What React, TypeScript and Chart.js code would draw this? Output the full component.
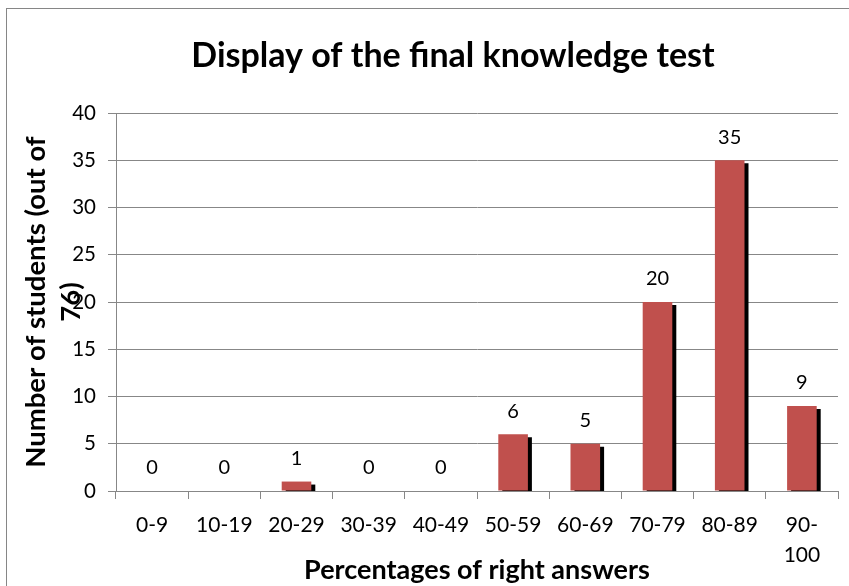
import React, { useEffect, useRef } from 'react';
import { Chart, registerables } from 'chart.js';

Chart.register(...registerables);

const categories: (string | string[])[] = ['0-9', '10-19', '20-29', '30-39', '40-49', '50-59', '60-69', '70-79', '80-89', ['90-', '100']];
const students = [0, 0, 1, 0, 0, 6, 5, 20, 35, 9];
const yMin = 0;
const yMax = 40;
const yStep = 5;
const chartTitle = 'Display of the final knowledge test';
const yTitleLines = ['Number of students (out of', '76)'];
const xTitle = 'Percentages of right answers';

const FONT = 'Lato, "Open Sans", sans-serif';
const GRID = '#878787';
const BAR = '#C0504D';

const framePlugin = {
  id: 'frame',
  beforeDraw(chart: any) {
    const ctx = chart.ctx;
    ctx.save();
    ctx.fillStyle = '#ffffff';
    ctx.fillRect(0, 0, chart.width, chart.height);
    ctx.strokeStyle = '#868686';
    ctx.lineWidth = 1;
    ctx.strokeRect(6.5, 8.5, 900, 700);
    ctx.restore();
  },
};

const shadowPlugin = {
  id: 'barShadow',
  beforeDatasetsDraw(chart: any) {
    const ctx = chart.ctx;
    ctx.save();
    ctx.shadowColor = '#000000';
    ctx.shadowOffsetX = 4;
    ctx.shadowOffsetY = 3;
    ctx.shadowBlur = 0;
  },
  afterDatasetsDraw(chart: any) {
    const ctx = chart.ctx;
    ctx.restore();
    ctx.save();
    ctx.fillStyle = '#000000';
    ctx.font = `20px ${FONT}`;
    ctx.textAlign = 'center';
    ctx.textBaseline = 'middle';
    const meta = chart.getDatasetMeta(0);
    meta.data.forEach((bar: any, i: number) => {
      const v = chart.data.datasets[0].data[i];
      ctx.fillText(String(v), bar.x, bar.y - 23);
    });
    ctx.restore();
  },
};

const textPlugin = {
  id: 'texts',
  afterDraw(chart: any) {
    const ctx = chart.ctx;
    const area = chart.chartArea;
    ctx.save();
    ctx.fillStyle = '#000000';
    ctx.textAlign = 'center';
    ctx.textBaseline = 'alphabetic';
    ctx.font = `bold 34px ${FONT}`;
    ctx.fillText(chartTitle, 453, 67);
    ctx.font = `bold 27px ${FONT}`;
    ctx.fillText(xTitle, (area.left + area.right) / 2, 579);
    const cy = (area.top + area.bottom) / 2;
    const xs = [45, 80];
    ctx.font = `bold 27.5px ${FONT}`;
    yTitleLines.forEach((line, i) => {
      ctx.save();
      ctx.translate(xs[i], cy);
      ctx.rotate(-Math.PI / 2);
      ctx.fillText(line, 0, 0);
      ctx.restore();
    });
    ctx.restore();
  },
};

export default function App() {
  const ref = useRef<HTMLCanvasElement | null>(null);

  useEffect(() => {
    document.body.style.margin = '0';
    const canvas = ref.current;
    if (!canvas) return;
    const chart = new Chart(canvas, {
      type: 'bar',
      data: {
        labels: categories as any,
        datasets: [
          {
            data: students,
            backgroundColor: BAR,
            borderWidth: 0,
            categoryPercentage: 1,
            barPercentage: 0.41,
            clip: 0 as any,
          },
        ],
      },
      options: {
        animation: false,
        responsive: false,
        devicePixelRatio: 1,
        layout: { padding: { left: 0, top: 113, right: 11, bottom: 0 } },
        plugins: {
          legend: { display: false },
          title: { display: false },
          tooltip: { enabled: false },
        },
        scales: {
          x: {
            offset: true,
            afterFit: (scale: any) => {
              scale.height = 95;
            },
            grid: {
              offset: true,
              drawOnChartArea: false,
              drawTicks: true,
              tickLength: 8,
              color: GRID,
            },
            border: { display: true, color: GRID },
            ticks: {
              color: '#000000',
              font: { family: FONT, size: 21, lineHeight: 1.45 },
              padding: 11,
              maxRotation: 0,
              autoSkip: false,
            },
          },
          y: {
            min: yMin,
            max: yMax,
            afterFit: (scale: any) => {
              scale.width = 116;
            },
            grid: {
              drawTicks: true,
              tickLength: 8,
              color: GRID,
            },
            border: { display: true, color: GRID },
            ticks: {
              stepSize: yStep,
              color: '#000000',
              font: { family: FONT, size: 20.5 },
              padding: 12,
            },
          },
        },
      },
      plugins: [framePlugin, shadowPlugin, textPlugin],
    });
    return () => chart.destroy();
  }, []);

  return (
    <div style={{ position: 'absolute', left: 0, top: 0, width: 849, height: 586 }}>
      <canvas ref={ref} width={849} height={586} style={{ display: 'block', width: 849, height: 586 }} />
    </div>
  );
}
